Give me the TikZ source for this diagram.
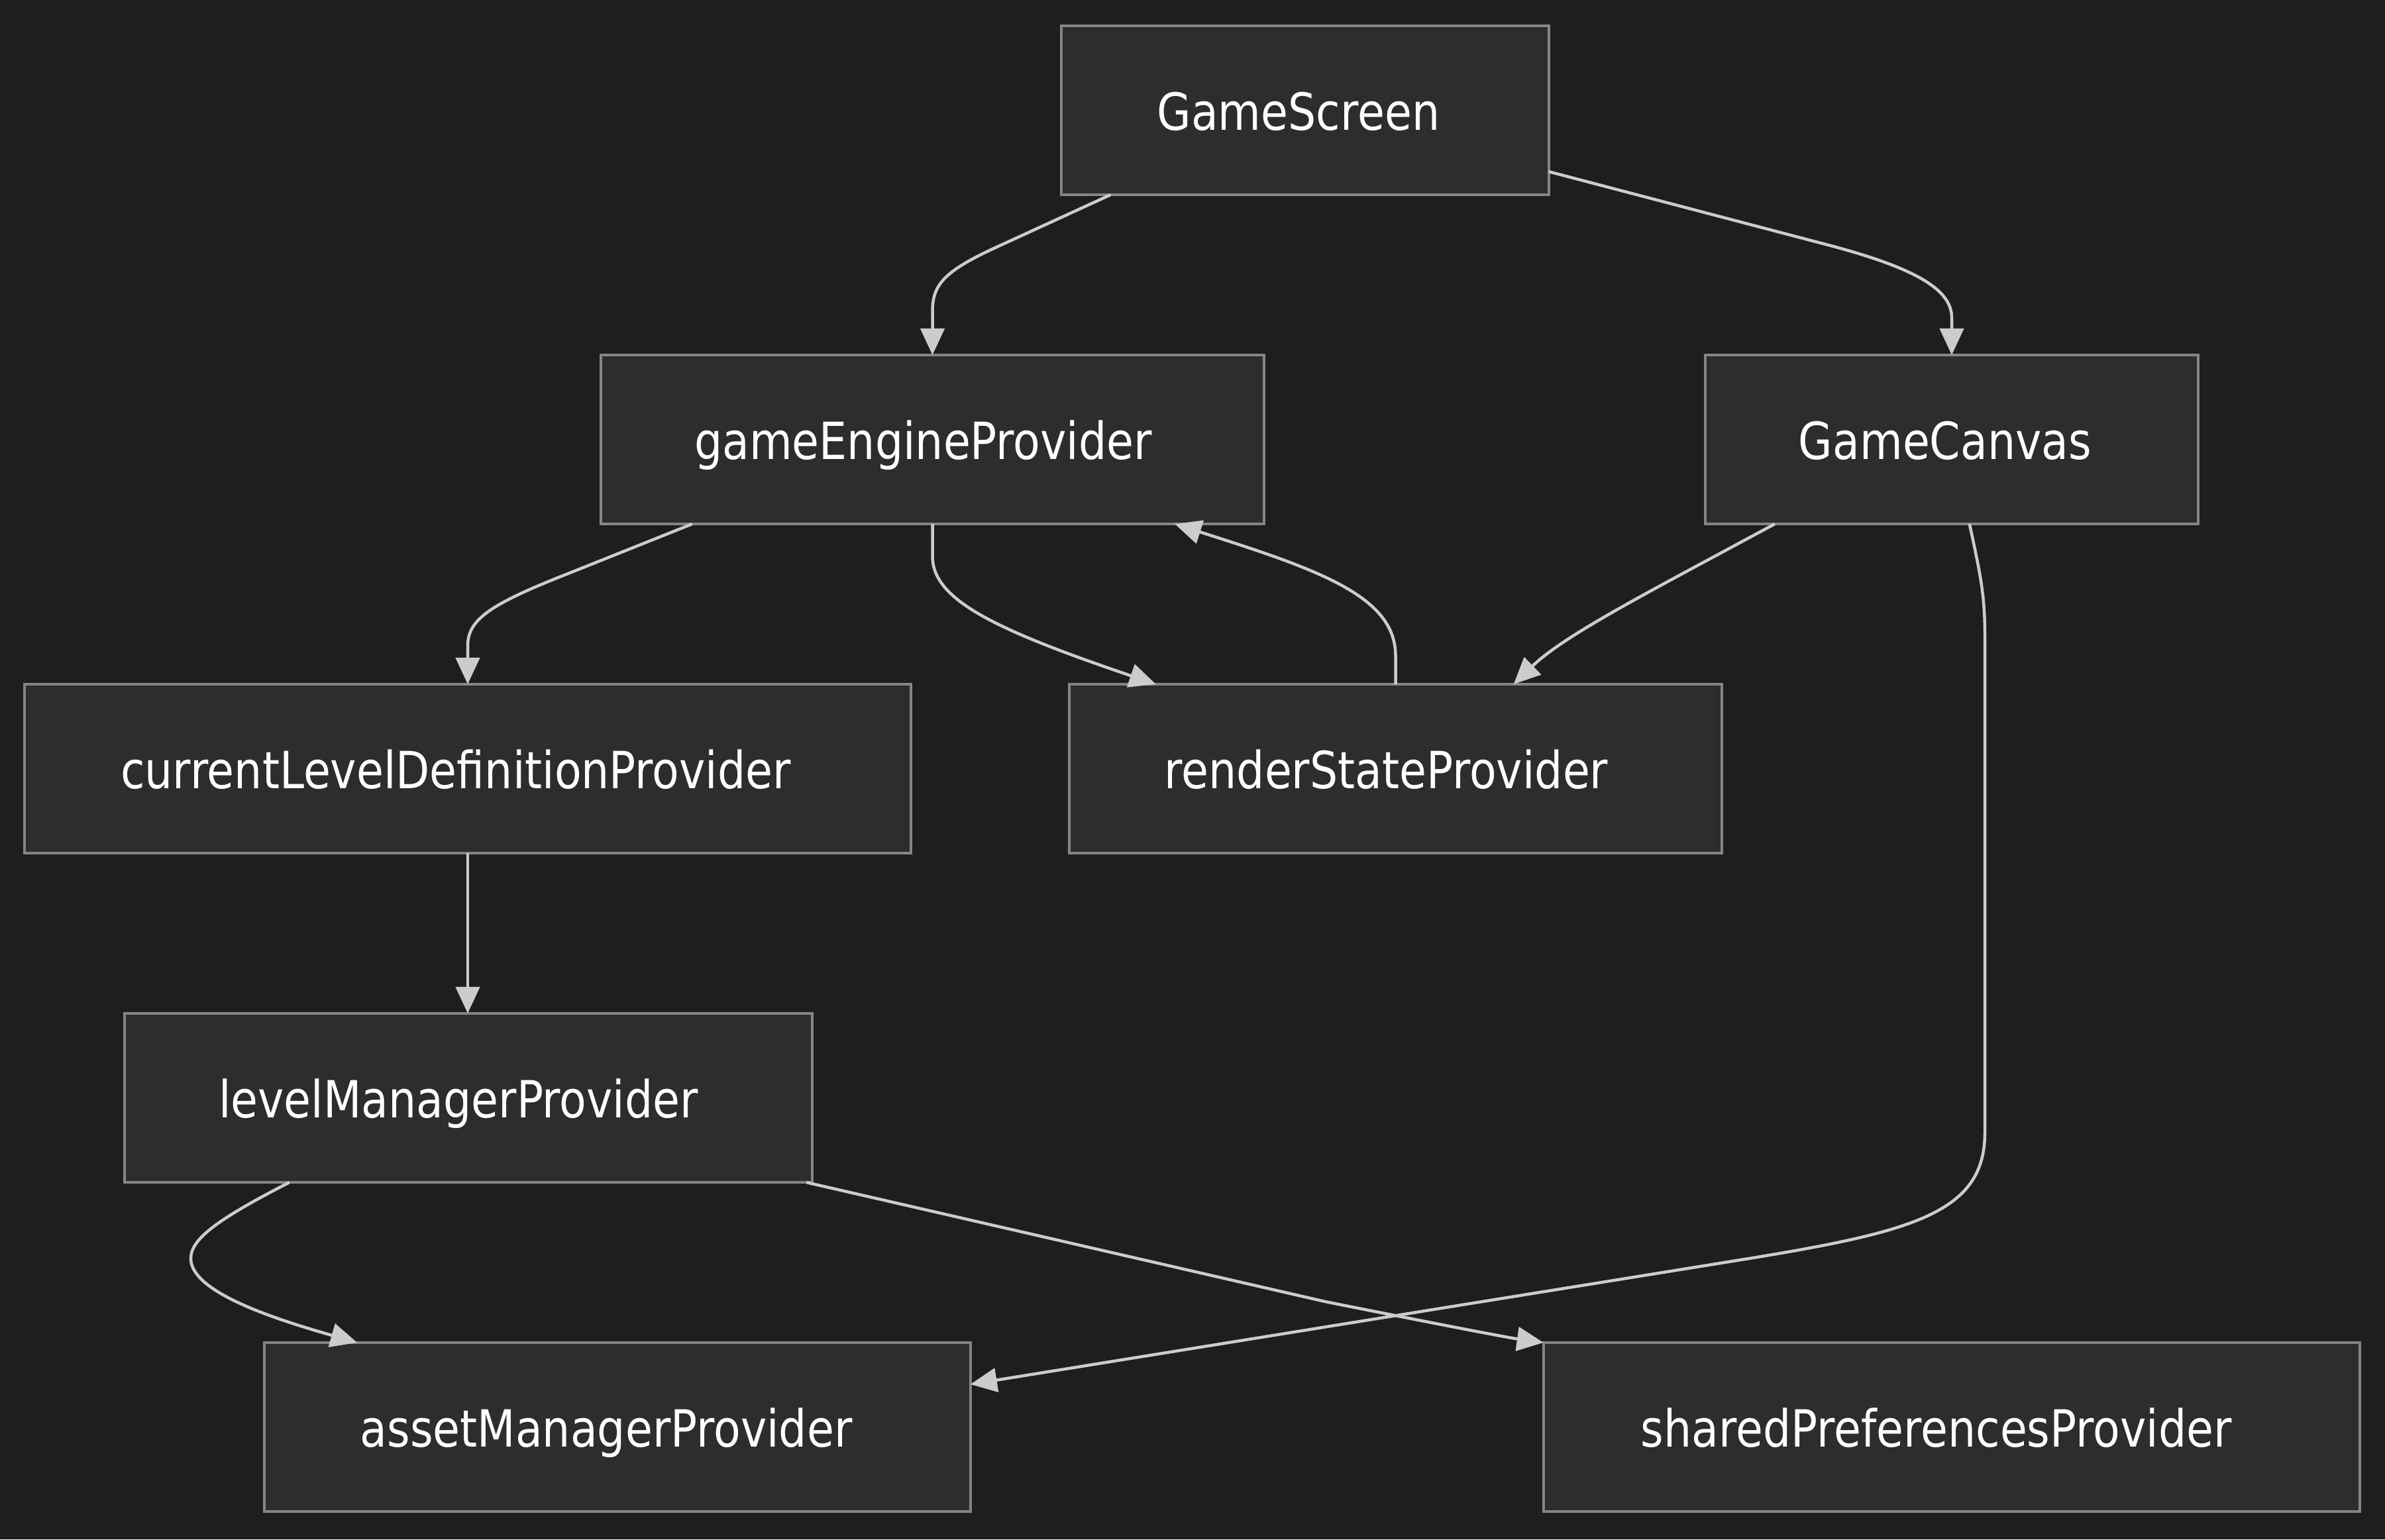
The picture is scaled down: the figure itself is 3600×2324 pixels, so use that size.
\documentclass[tikz,border=0pt]{standalone}
\usepackage{fontspec}
\setmainfont{DejaVu Sans}[FakeStretch=0.86]
\usetikzlibrary{arrows.meta,calc}
\definecolor{bgc}{HTML}{1E1E1E}
\definecolor{boxc}{HTML}{2D2D2D}
\definecolor{bordc}{HTML}{858585}
\definecolor{edgec}{HTML}{CCCCCC}
\begin{document}
\begin{tikzpicture}[x=0.01cm,y=-0.01cm,
  box/.style={draw=bordc, fill=boxc, line width=0.04cm, minimum height=2.55cm,
    text height=0.64cm, text depth=0.04cm,
    text=white, font=\fontsize{22pt}{26pt}\selectfont, inner sep=0pt, outer sep=0pt},
  edge/.style={draw=edgec, line width=0.045cm, -{Triangle[length=0.4cm,width=0.36cm]}}]
\fill[bgc] (0,0) rectangle (3600,2324);
\useasboundingbox (0,0) rectangle (3600,2324);

\node[box, minimum width=7.35cm]  (gs)  at (1970,166.5)  {GameScreen\kern0.2cm};
\node[box, minimum width=10.01cm] (gep) at (1407.5,663.5) {gameEngineProvider\kern0.28cm};
\node[box, minimum width=7.44cm]  (gc)  at (2946,663.5)  {GameCanvas\kern0.2cm};
\node[box, minimum width=13.38cm] (clp) at (706,1160.5)  {currentLevelDefinitionProvider\kern0.36cm};
\node[box, minimum width=9.85cm]  (rsp) at (2106.5,1160.5) {renderStateProvider\kern0.28cm};
\node[box, minimum width=10.38cm] (lmp) at (707,1657.5)  {levelManagerProvider\kern0.3cm};
\node[box, minimum width=10.65cm] (ams) at (932,2154.5)  {assetManagerProvider\kern0.34cm};
\node[box, minimum width=12.31cm] (spp) at (2945.6,2154.5) {sharedPreferencesProvider\kern0.46cm};

% GameScreen -> gameEngineProvider
\draw[edge] ($(gs.south west)+(74,0)$) -- (1500,375) .. controls (1425,410) and (1407.5,430) .. (1407.5,470) -- (gep.north);
% GameScreen -> GameCanvas
\draw[edge] ($(gs.south east)+(0,-35)$) -- (2760,370) .. controls (2900,407) and (2946,440) .. (2946,480) -- (gc.north);
% gameEngineProvider -> currentLevelDefinitionProvider
\draw[edge] ($(gep.south west)+(138,0)$) -- (860,865) .. controls (740,912) and (706,935) .. (706,975) -- (clp.north);
% gameEngineProvider -> renderStateProvider
\draw[edge] (gep.south) -- (1407.5,840) .. controls (1407.5,905) and (1500,950) .. ($(rsp.north west)+(131,0)$);
% renderStateProvider -> gameEngineProvider
\draw[edge] (rsp.north) -- (2106.5,990) .. controls (2106.5,900) and (1990,860) .. ($(gep.south east)+(-135,0)$);
% GameCanvas -> renderStateProvider
\draw[edge] ($(gc.south west)+(105,0)$) -- (2560,855) .. controls (2430,925) and (2350,970) .. ($(rsp.north west)+(671,0)$);
% GameCanvas -> assetManagerProvider
\draw[edge] ($(gc.south west)+(399,0)$) .. controls (2990,870) and (2996,900) .. (2996,960) -- (2996,1710)
  .. controls (2996,1830) and (2890,1859) .. (2640,1900) -- ($(ams.north east)+(0,63)$);
% currentLevelDefinitionProvider -> levelManagerProvider
\draw[edge] (clp.south) -- (clp.south |- lmp.north);
% levelManagerProvider -> assetManagerProvider
\draw[edge] ($(lmp.south west)+(249,0)$) .. controls (330,1840) and (288,1870) .. (288,1900)
  .. controls (288,1950) and (410,1990) .. ($(ams.north west)+(140,0)$);
% levelManagerProvider -> sharedPreferencesProvider
\draw[edge] ($(lmp.south east)+(-9,0)$) -- (2000,1965) .. controls (2200,2005) and (2280,2020) .. (spp.north west);
\end{tikzpicture}
\end{document}
